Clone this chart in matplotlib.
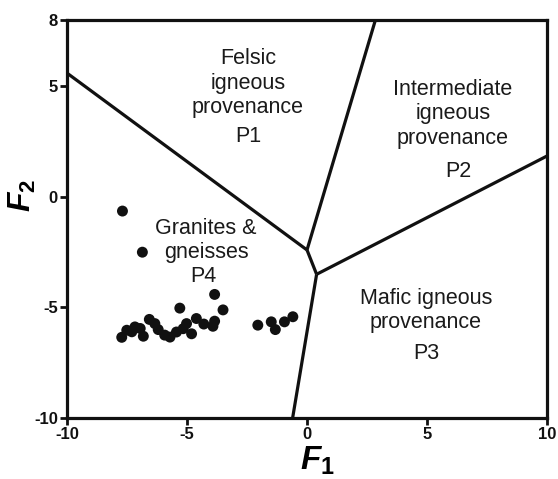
import matplotlib
matplotlib.use("Agg")
import matplotlib.pyplot as plt

plt.rcParams['font.family'] = ['Liberation Sans', 'DejaVu Sans']
plt.rcParams['mathtext.fontset'] = 'custom'
plt.rcParams['mathtext.it'] = 'Liberation Sans:italic:bold'
plt.rcParams['mathtext.rm'] = 'Liberation Sans:bold'

# Discriminant function scores of the samples
f1 = [-7.69, -6.86, -3.85, -5.30, -3.50, -6.57, -6.34, -6.20, -4.61, -5.02,
      -5.16, -5.44, -5.71, -4.81, -3.85, -3.92, -7.17, -7.51, -7.72, -7.30,
      -6.82, -6.95, -5.93, -2.05, -1.49, -1.32, -0.94, -0.59, -4.30]
f2 = [-0.64, -2.50, -4.41, -5.03, -5.11, -5.54, -5.73, -6.00, -5.50, -5.73,
      -5.96, -6.11, -6.34, -6.19, -5.62, -5.85, -5.88, -6.03, -6.35, -6.10,
      -6.30, -5.95, -6.25, -5.80, -5.65, -6.00, -5.65, -5.42, -5.75]

# Field boundaries (F1, F2 vertices)
boundaries = [
    ([-10.0, 0.0], [5.6, -2.4]),
    ([0.0, 2.85], [-2.4, 8.0]),
    ([0.0, 0.4], [-2.4, -3.5]),
    ([0.4, 10.0], [-3.5, 1.85]),
    ([0.4, -0.6], [-3.5, -10.0]),
]

# Field descriptions: (F1, F2 of block centre, text)
field_names = [
    (-2.46, 5.15, "Felsic\nigneous\nprovenance"),
    (6.08, 3.75, "Intermediate\nigneous\nprovenance"),
    (-4.21, -1.97, "Granites &\ngneisses"),
    (4.96, -5.14, "Mafic igneous\nprovenance"),
]
# Field codes: (F1, F2, text)
field_codes = [
    (-2.46, 2.71, "P1"),
    (6.29, 1.17, "P2"),
    (-4.33, -3.62, "P4"),
    (4.96, -7.06, "P3"),
]

xticks = [-10, -5, 0, 5, 10]
yticks = [-10, -5, 0, 5, 8]

fig = plt.figure(figsize=(5.58, 4.79), dpi=100)
ax = fig.add_axes([0.1201, 0.1273, 0.8602, 0.8309])

for bx, by in boundaries:
    ax.plot(bx, by, color='#111111', lw=2.3, solid_capstyle='butt', zorder=2)

ax.scatter(f1, f2, s=62, color='#111111', edgecolors='none', zorder=3)

for x, y, t in field_names:
    ax.text(x, y, t, ha='center', va='center', fontsize=15.5,
            color='#1a1a1a', linespacing=1.22)
for x, y, t in field_codes:
    ax.text(x, y, t, ha='center', va='center', fontsize=15.5, color='#1a1a1a')

ax.set_xlim(-10, 10)
ax.set_ylim(-10, 8)
ax.set_xticks(xticks)
ax.set_yticks(yticks)
ax.set_xticklabels([str(v) for v in xticks], fontweight='bold', fontsize=12)
ax.set_yticklabels([str(v) for v in yticks], fontweight='bold', fontsize=12)
ax.tick_params(direction='out', length=5, width=2, pad=1.5, colors='#111111')

for sp in ax.spines.values():
    sp.set_linewidth(2.3)
    sp.set_color('#111111')

ax.set_xlabel(r'$F_1$', fontsize=24)
ax.set_ylabel(r'$F_2$', fontsize=23)
ax.xaxis.set_label_coords(0.521, -0.066)
ax.yaxis.set_label_coords(-0.06, 0.558)

fig.savefig('out.png', dpi=100)
